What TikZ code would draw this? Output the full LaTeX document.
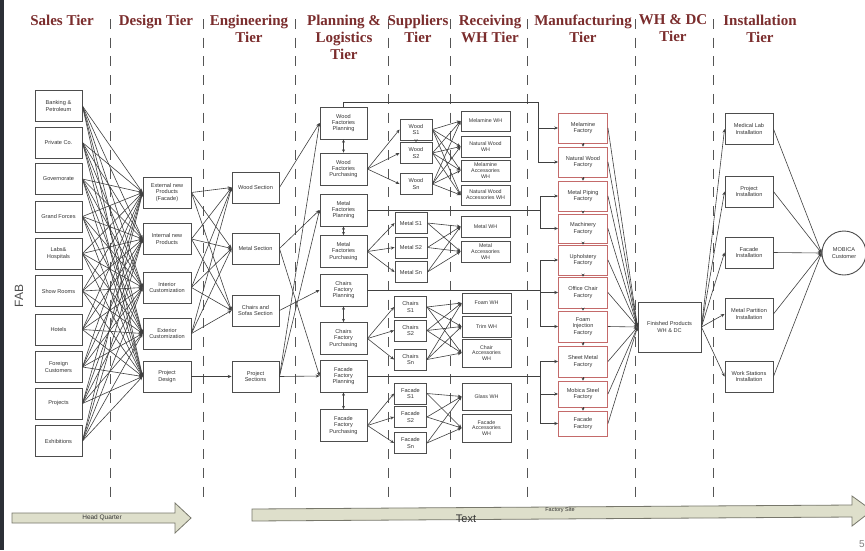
\documentclass[tikz,border=0pt]{standalone}
\usepackage{fontspec}
\setmainfont{Liberation Sans}
\newfontfamily\tnrfam{Liberation Serif}
\usetikzlibrary{arrows.meta}

\definecolor{boxgray}{HTML}{4D4D4D}
\definecolor{mfgred}{HTML}{C46A6A}
\definecolor{linegray}{HTML}{404040}
\definecolor{sepgray}{HTML}{555555}
\definecolor{tiercol}{HTML}{7B2D2D}
\definecolor{txtgray}{HTML}{333333}
\definecolor{bandfill}{HTML}{DEDFCB}
\definecolor{bandline}{HTML}{77776B}
\definecolor{leftbar}{HTML}{2C2F36}

\newcommand\bxfont{\fontsize{5.6}{6.4}\selectfont}
\newcommand\whfont{\fontsize{5.3}{5.9}\selectfont}
\newcommand\tierfnt{\tnrfam\bfseries\fontsize{15}{17}\selectfont}

\begin{document}
\begin{tikzpicture}[x=1pt,y=-1pt,
  box/.style={draw=boxgray, line width=0.9pt, fill=white, inner sep=0pt,
    align=center, font=\bxfont, text=txtgray},
  whbox/.style={box, font=\whfont},
  mbox/.style={box, draw=mfgred},
  lnk/.style={draw=linegray, line width=0.6pt},
  arr/.style={lnk, -{Stealth[length=3.8pt,width=3.2pt]}},
  dbl/.style={lnk, {Stealth[length=3.2pt,width=3pt]}-{Stealth[length=3.2pt,width=3pt]}},
  tinyarr/.style={lnk, -{Stealth[length=2.8pt,width=3pt]}},
  tier/.style={font=\tierfnt, text=tiercol, align=center, anchor=north, inner sep=0pt},
  sepline/.style={draw=sepgray, line width=0.9pt, dash pattern=on 10pt off 8.7pt},
  band/.style={draw=bandline, line width=0.8pt, fill=bandfill, line join=miter}
]
% canvas
\useasboundingbox (0,0) rectangle (865,550);
\fill[white] (0,0) rectangle (865,550);
\fill[leftbar] (0,0) rectangle (4,550);

% tier separators
\foreach \sx in {110,203,295.5,388.5,450,527.5,635.5,713}
  \draw[sepline] (\sx,19) -- (\sx,503);

% tier headings
\node[tier] (tsales) at (62,14.5) {Sales Tier};
\node[tier] (tdesign) at (156,14.5) {Design Tier};
\node[tier] (teng) at (249,14.5) {Engineering\\Tier};
\node[tier] (tplan) at (344,14.5) {Planning \&\\Logistics\\Tier};
\node[tier] (tsup) at (418,14.5) {Suppliers\\Tier};
\node[tier] (trec) at (490,14.5) {Receiving\\WH Tier};
\node[tier] (tmfg) at (583,14.5) {Manufacturing\\Tier};
\node[tier] (twh) at (673,14.5) {WH \& DC\\Tier};
\node[tier] (tins) at (760,14.5) {Installation\\Tier};

\node[font=\fontsize{12}{12}\selectfont, text=boxgray, rotate=90] (fab) at (19,296) {FAB};

% sales tier
\begin{scope}[every node/.style={box, minimum width=47pt, minimum height=31pt}]
\node (s1) at (58.5,106) {Banking \&\\Petroleum};
\node (s2) at (58.5,142.5) {Private Co.};
\node (s3) at (58.5,179) {Governorate};
\node (s4) at (58.5,216.5) {Grand Forces};
\node (s5) at (58.5,253.5) {Labs\&\\Hospitals};
\node (s6) at (58.5,291) {Show Rooms};
\node (s7) at (58.5,329.5) {Hotels};
\node (s8) at (58.5,367) {Foreign\\Customers};
\node (s9) at (58.5,403.5) {Projects};
\node (s10) at (58.5,441) {Exhibitions};
\end{scope}

% design tier
\begin{scope}[every node/.style={box, minimum width=48pt, minimum height=31pt}]
\node (d1) at (167,192.5) {External new\\Products\\(Facade)};
\node (d2) at (167,239) {Internal new\\Products};
\node (d3) at (167,287.5) {Interior\\Customization};
\node (d4) at (167,333.5) {Exterior\\Customization};
\node (d5) at (167,376.5) {Project\\Design};
\end{scope}

% engineering tier
\begin{scope}[every node/.style={box, minimum width=47pt, minimum height=31pt}]
\node (e1) at (255.5,187.5) {Wood Section};
\node (e2) at (255.5,248.5) {Metal Section};
\node (e3) at (255.5,310.5) {Chairs and\\Sofas Section};
\node (e4) at (255.5,376.5) {Project\\Sections};
\end{scope}

% planning & logistics tier
\begin{scope}[every node/.style={box, minimum width=47pt, minimum height=32pt}]
\node (wpl) at (343.5,123) {Wood\\Factories\\Planning};
\node (wpu) at (343.5,169) {Wood\\Factories\\Purchasing};
\node (mpl) at (343.5,210) {Metal\\Factories\\Planning};
\node (mpu) at (343.5,251.5) {Metal\\Factories\\Purchasing};
\node (cpl) at (343.5,290) {Chairs\\Factory\\Planning};
\node (cpu) at (343.5,338.5) {Chairs\\Factory\\Purchasing};
\node (fpl) at (343.5,376) {Facade\\Factory\\Planning};
\node (fpu) at (343.5,425.5) {Facade\\Factory\\Purchasing};
\end{scope}

% suppliers tier
\begin{scope}[every node/.style={box, minimum width=32pt, minimum height=21pt}]
\node (ws1) at (416,129.5) {Wood\\S1};
\node (ws2) at (416,153) {Wood\\S2};
\node (ws3) at (416,184) {Wood\\Sn};
\node (ms1) at (411,223) {Metal S1};
\node (ms2) at (411,247.5) {Metal S2};
\node (ms3) at (411,272) {Metal Sn};
\node (cs1) at (410.5,307) {Chairs\\S1};
\node (cs2) at (410.5,330.5) {Chairs\\S2};
\node (cs3) at (410.5,359.5) {Chairs\\Sn};
\node (fs1) at (410.5,393.5) {Facade\\S1};
\node (fs2) at (410.5,417) {Facade\\S2};
\node (fs3) at (410.5,443) {Facade\\Sn};
\end{scope}

% receiving warehouses
\begin{scope}[every node/.style={whbox, minimum width=49pt}]
\node[minimum height=20pt] (wh1) at (485.5,121) {Melamine WH};
\node[minimum height=21pt] (wh2) at (485.5,146.5) {Natural Wood\\WH};
\node[minimum height=21pt] (wh3) at (485.5,170.5) {Melamine\\Accessories\\WH};
\node[minimum height=20pt] (wh4) at (485.5,195) {Natural Wood\\Accessories WH};
\node[minimum height=21pt] (wh5) at (485.5,226.5) {Metal WH};
\node[minimum height=21pt] (wh6) at (485.5,251.5) {Metal\\Accessories\\WH};
\node[minimum height=20pt] (wh7) at (486.5,303) {Foam WH};
\node[minimum height=21pt] (wh8) at (486.5,326.5) {Trim WH};
\node[minimum height=28pt] (wh9) at (486.5,353) {Chair\\Accessories\\WH};
\node[minimum height=27pt] (wh10) at (486.5,396.5) {Glass WH};
\node[minimum height=28pt] (wh11) at (486.5,428) {Facade\\Accessories\\WH};
\end{scope}

% manufacturing tier
\begin{scope}[every node/.style={mbox, minimum width=49pt}]
\node[minimum height=30pt] (m1) at (583,128) {Melamine\\Factory};
\node[minimum height=30pt] (m2) at (583,162) {Natural Wood\\Factory};
\node[minimum height=30pt] (m3) at (583,196) {Metal Piping\\Factory};
\node[minimum height=29pt] (m4) at (583,228.5) {Machinery\\Factory};
\node[minimum height=30pt] (m5) at (583,260) {Upholstery\\Factory};
\node[minimum height=31pt] (m6) at (583,292.5) {Office Chair\\Factory};
\node[minimum height=31pt] (m7) at (583,326.5) {Foam\\Injection\\Factory};
\node[minimum height=31pt] (m8) at (583,361.5) {Sheet Metal\\Factory};
\node[minimum height=26pt] (m9) at (583,394) {Mobica Steel\\Factory};
\node[minimum height=25pt] (m10) at (583,423.5) {Facade\\Factory};
\end{scope}

% finished goods warehouse
\node[box, minimum width=63pt, minimum height=50pt] (fp) at (669.5,327) {Finished Products\\WH \& DC};

% installation tier
\begin{scope}[every node/.style={box, minimum width=48pt, minimum height=31pt}]
\node (i1) at (749,129) {Medical Lab\\Installation};
\node (i2) at (749,191.5) {Project\\Installation};
\node (i3) at (749,252.5) {Facade\\Installation};
\node (i4) at (749,314) {Metal Partition\\Installation};
\node (i5) at (749,376.5) {Work Stations\\Installation};
\end{scope}

\node[box, circle, minimum size=44pt] (mob) at (844,253) {MOBICA\\Customer};

% sales -> design
\foreach \i in {1,...,10}
  \foreach \j in {1,...,5}
    \draw[arr] (s\i.east) -- (d\j.west);

% design -> engineering
\foreach \i in {1,...,4}
  \foreach \j in {1,2,3}
    \draw[arr] (d\i.east) -- (e\j.west);
\draw[arr] (d5.east) -- (e4.west);

% engineering -> planning
\draw[arr] (e1.east) -- (wpl.west);
\draw[arr] (e2.east) -- (mpl.west);
\draw[arr] (e2.east) -- (fpl.west);
\draw[arr] (e3.east) -- (cpl.west);
\draw[arr] (e4.east) -- (wpl.west);
\draw[arr] (e4.east) -- (mpl.west);
\draw[arr] (e4.east) -- (fpl.west);

% planning <-> purchasing
\draw[dbl] (wpl.south) -- (wpu.north);
\draw[dbl] (mpl.south) -- (mpu.north);
\draw[dbl] (cpl.south) -- (cpu.north);
\draw[dbl] (fpl.south) -- (fpu.north);

% purchasing -> suppliers
\foreach \k in {1,2,3} {
  \draw[arr] (wpu.east) -- (ws\k.west);
  \draw[arr] (mpu.east) -- (ms\k.west);
  \draw[arr] (cpu.east) -- (cs\k.west);
  \draw[arr] (fpu.east) -- (fs\k.west);
}
\draw[tinyarr] (ws1.south) -- (ws2.north);

% suppliers -> receiving warehouses
\foreach \k in {1,2,3} {
  \foreach \j in {1,...,4} \draw[arr] (ws\k.east) -- (wh\j.west);
  \foreach \j in {5,6} \draw[arr] (ms\k.east) -- (wh\j.west);
  \foreach \j in {7,8,9} \draw[arr] (cs\k.east) -- (wh\j.west);
  \foreach \j in {10,11} \draw[arr] (fs\k.east) -- (wh\j.west);
}

% planning -> factories (bus lines)
\coordinate (wbus) at (538,102);
\coordinate (mbus) at (540,210);
\coordinate (cbus) at (540,290);
\coordinate (fbus) at (540,376);
\draw[lnk] (wpl.north) |- (wbus);
\draw[arr] (wbus) |- (m2.west);
\draw[arr] (wbus |- m1.west) -- (m1.west);
\draw[lnk] (mpl.east) -- (mbus);
\draw[arr] (mbus) |- (m3.west);
\draw[arr] (mbus) |- (m4.west);
\draw[lnk] (cpl.east) -- (cbus);
\draw[arr] (cbus) |- (m5.west);
\draw[arr] (cbus) |- (m6.west);
\draw[arr] (cbus) |- (m7.west);
\draw[lnk] (fpl.east) -- (fbus);
\draw[arr] (fbus) |- (m8.west);
\draw[arr] (fbus) |- (m9.west);
\draw[arr] (fbus) |- (m10.west);

% factory chain
\foreach \j [remember=\j as \i (initially 1)] in {2,...,10}
  \draw[tinyarr] (m\i.south) -- (m\j.north);

% factories -> finished products
\foreach \i in {1,...,10}
  \draw[arr] (m\i.east) -- (fp.west);

% finished products -> installation -> customer
\foreach \i in {1,...,5} {
  \draw[arr] (fp.east) -- (i\i.west);
  \draw[arr] (i\i.east) -- (mob.west);
}

% site bands
\draw[band] (12,513) -- (175,513) -- (175,503) -- (191,518) -- (175,533)
  -- (175,523) -- (12,523) -- cycle;
\node[font=\fontsize{6.5}{6.5}\selectfont, text=txtgray] (hq) at (102,518) {Head Quarter};
\draw[band] (252,509) -- (852,505) -- (852,496) -- (872,510.5) -- (852,526)
  -- (852,517) -- (252,521) -- cycle;
\node[font=\fontsize{5.5}{5.5}\selectfont, text=txtgray] (fsite) at (560,510) {Factory Site};
\node[font=\fontsize{11}{11}\selectfont, text=txtgray] (txt) at (466,518.5) {Text};
\node[font=\fontsize{10}{10}\selectfont, text=gray] (pg) at (862,544) {5};
\end{tikzpicture}
\end{document}
